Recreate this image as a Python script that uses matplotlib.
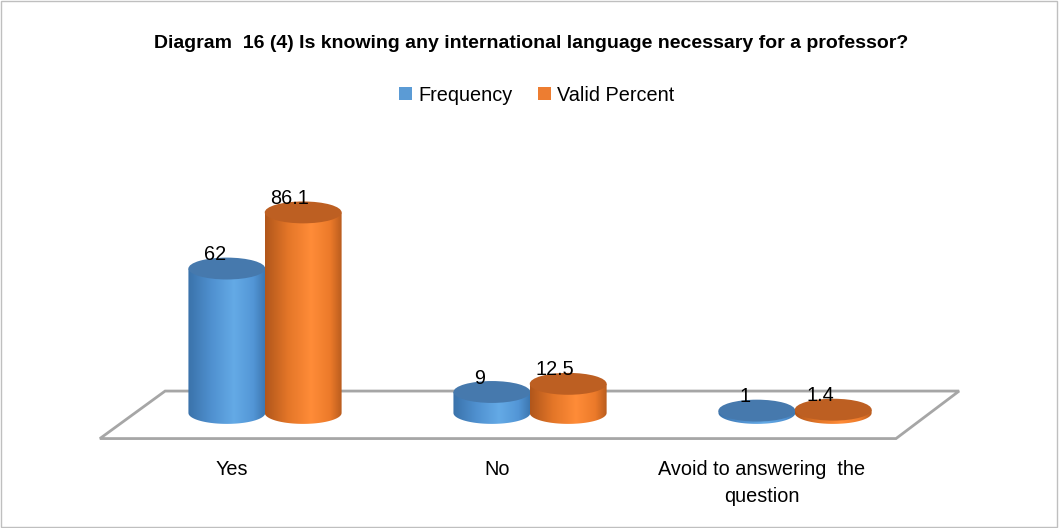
import numpy as np
import matplotlib
matplotlib.use("Agg")
from matplotlib import pyplot as plt
from matplotlib.patches import Ellipse, Patch, Rectangle, Polygon
from matplotlib.path import Path
from matplotlib.colors import LinearSegmentedColormap

plt.rcParams["font.family"] = ["Liberation Sans", "DejaVu Sans"]

categories = ["Yes", "No", "Avoid to answering  the\nquestion"]
frequency = [62, 9, 1]
valid_percent = [86.1, 12.5, 1.4]
freq_labels = ["62", "9", "1"]
pct_labels = ["86.1", "12.5", "1.4"]
title = "Diagram  16 (4) Is knowing any international language necessary for a professor?"

################################################################################
# Layout
################################################################################

fig = plt.figure(figsize=(10.59, 5.28), dpi=100)
ax = fig.add_axes([0, 0, 1, 1])
ax.set_axis_off()

BAR_W = 0.29
OFFSET = 0.144
ELL_H = 9.4  # ellipse height in value units

blue_cmap = LinearSegmentedColormap.from_list(
    "b", [(0, "#3a72aa"), (0.3, "#4f90cf"), (0.6, "#64aae6"), (0.85, "#5396d6"), (1, "#3d78b2")])
orange_cmap = LinearSegmentedColormap.from_list(
    "o", [(0, "#b0561b"), (0.3, "#e47628"), (0.6, "#ff8c38"), (0.85, "#ec7a2a"), (1, "#b95c1e")])


def cylinder(xc, v, cmap, top_color, z):
    x0, x1 = xc - BAR_W / 2, xc + BAR_W / 2
    t = np.linspace(np.pi, 2 * np.pi, 60)
    verts = [(x0, v)]
    verts += list(zip(xc + BAR_W / 2 * np.cos(t), ELL_H / 2 * np.sin(t)))
    verts += [(x1, v), (x0, v)]
    path = Path(verts, closed=True)
    grad = np.linspace(0, 1, 256).reshape(1, -1)
    im = ax.imshow(grad, cmap=cmap, extent=[x0, x1, -ELL_H / 2, v],
                   aspect="auto", zorder=z, interpolation="bicubic")
    im.set_clip_path(path, transform=ax.transData)
    ax.add_patch(Ellipse((xc, v), BAR_W, ELL_H, facecolor=top_color,
                         edgecolor="none", zorder=z + 0.1))


# floor
floor = Polygon([(-0.623, -11), (-0.377, 9.4), (2.619, 9.4), (2.381, -11)],
                closed=True, facecolor="white", edgecolor="#a6a6a6", linewidth=2, zorder=1)
ax.add_patch(floor)

x = np.arange(len(categories))
for i in range(len(categories)):
    cylinder(x[i] - OFFSET, frequency[i], blue_cmap, "#4679ad", 2 + i)
    cylinder(x[i] + OFFSET, valid_percent[i], orange_cmap, "#bd5f22", 2.5 + i)
    ax.text(x[i] - OFFSET - 0.045, frequency[i] + 6, freq_labels[i],
            ha="center", va="center", fontsize=14.3, zorder=10)
    ax.text(x[i] + OFFSET - 0.05, valid_percent[i] + 6, pct_labels[i],
            ha="center", va="center", fontsize=14.3, zorder=10)
    ax.text(x[i] - 0.125, -20, categories[i], ha="center", va="top",
            fontsize=14.3, linespacing=1.55)

ax.set_xlim(-1.0, 2.996)
ax.set_ylim(-49.4, 177.3)

fig.text(0.502, 0.918, title, ha="center", va="center", fontsize=14, fontweight="bold")

handles = [Patch(facecolor="#5b9bd5"), Patch(facecolor="#ed7d31")]
fig.legend(handles, ["Frequency", "Valid Percent"], loc="center",
           bbox_to_anchor=(0.507, 0.82), ncol=2, frameon=False, fontsize=14.3,
           handlelength=0.65, handleheight=0.65, handletextpad=0.3, columnspacing=1.3)

fig.patches.append(Rectangle((0.001, 0.002), 0.997, 0.996, transform=fig.transFigure,
                             fill=False, edgecolor="#bfbfbf", linewidth=1))

plt.savefig("out.png", dpi=100)
